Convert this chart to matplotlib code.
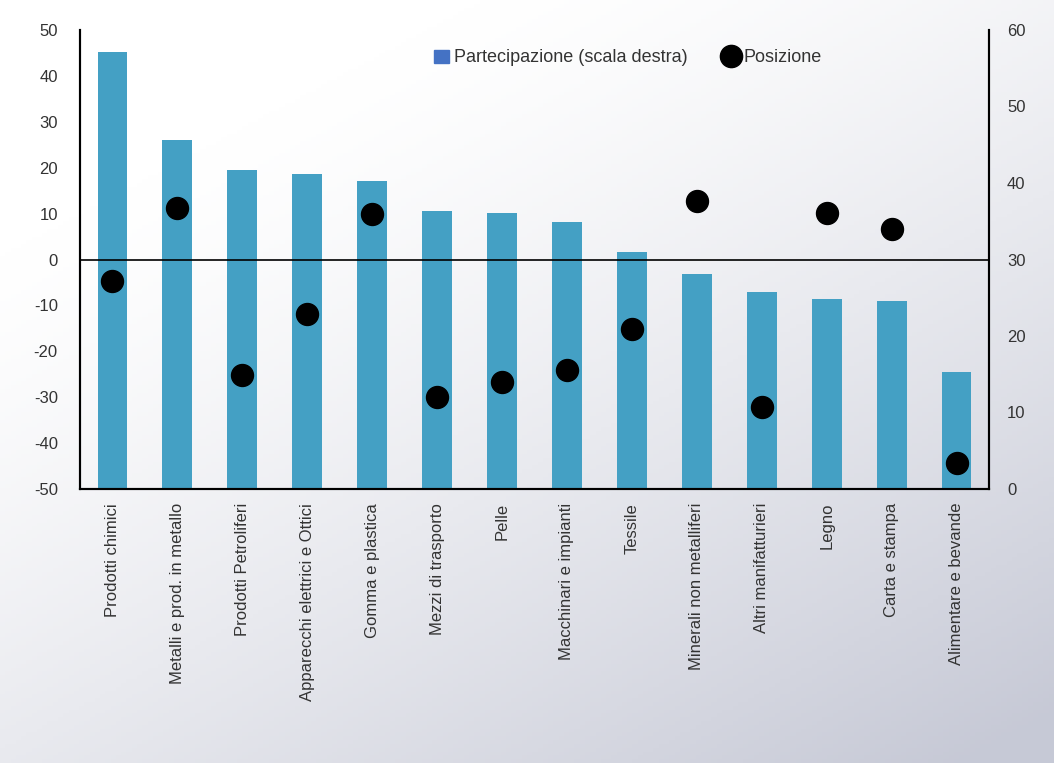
import numpy as np
import matplotlib
matplotlib.use("Agg")
import matplotlib.pyplot as plt
from matplotlib.lines import Line2D
from matplotlib.patches import Patch

categories = ["Prodotti chimici", "Metalli e prod. in metallo", "Prodotti Petroliferi",
              "Apparecchi elettrici e Ottici", "Gomma e plastica", "Mezzi di trasporto",
              "Pelle", "Macchinari e impianti", "Tessile", "Minerali non metalliferi",
              "Altri manifatturieri", "Legno", "Carta e stampa", "Alimentare e bevande"]
partecipazione = [57.1, 45.6, 41.7, 41.2, 40.3, 36.3, 36.1, 34.9, 31.0, 28.1, 25.8, 24.8, 24.6, 15.3]
posizione = [-4.7, 11.2, -25.2, -11.9, 9.9, -30.0, -26.7, -24.1, -15.1, 12.7, -32.1, 10.1, 6.6, -44.3]
left_ticks = [-50, -40, -30, -20, -10, 0, 10, 20, 30, 40, 50]
right_ticks = [0, 10, 20, 30, 40, 50, 60]

plt.rcParams['font.family'] = ['Liberation Sans', 'DejaVu Sans']
plt.rcParams['axes.unicode_minus'] = False

fig = plt.figure(figsize=(10.54, 7.63), dpi=100)

# background gradient
bg = fig.add_axes([0, 0, 1, 1], zorder=-10)
yy, xx = np.mgrid[0:1:200j, 0:1:200j]
t = np.clip((xx * 0.55 + yy * 0.75) - 0.25, 0, 1) ** 1.3
c0 = np.array([1.0, 1.0, 1.0])
c1 = np.array([0.78, 0.79, 0.84])
img = c0[None, None, :] * (1 - t[..., None]) + c1[None, None, :] * t[..., None]
bg.imshow(img, extent=[0, 1, 0, 1], origin="upper", aspect="auto")
bg.axis("off")

L, R, B, T = 80 / 1054, 989 / 1054, 1 - 489 / 763, 1 - 30 / 763
ax = fig.add_axes([L, B, R - L, T - B])
ax.patch.set_alpha(0)
ax2 = ax.twinx()

x = np.arange(len(categories))
ax2.bar(x, partecipazione, width=0.46, color="#44a0c4", zorder=1)
ax2.set_ylim(0, 60)
ax2.set_yticks(right_ticks)

ax.set_zorder(ax2.get_zorder() + 1)
ax.patch.set_visible(False)
ax.axhline(0, color="black", lw=1.2, zorder=2)
ax.scatter(x, posizione, s=250, color="black", zorder=3)
ax.set_ylim(-50, 50)
ax.set_yticks(left_ticks)
ax.set_xlim(-0.5, len(categories) - 0.5)
ax.set_xticks(x)
ax.set_xticklabels(categories, rotation=90, va="top", ha="center")

for a in (ax, ax2):
    a.spines["top"].set_visible(False)
    for s in ("left", "right", "bottom"):
        a.spines[s].set_color("black")
        a.spines[s].set_linewidth(1.5)
    a.tick_params(axis="both", length=0, labelsize=12, colors="#333333")
ax.tick_params(axis="y", pad=16)
ax2.tick_params(axis="y", pad=13)
ax.tick_params(axis="x", pad=10)

handles = [Patch(color="#4472c4"),
           Line2D([], [], marker="o", ls="none", color="black", markersize=16)]
fig.legend(handles, ["Partecipazione (scala destra)", "Posizione"],
           loc="center", bbox_to_anchor=(628 / 1054, 1 - 58 / 763), ncol=2,
           frameon=False, fontsize=13, handlelength=0.8, handletextpad=0.3,
           columnspacing=2.0, labelcolor="#333333")

fig.savefig("out.png", dpi=100)
